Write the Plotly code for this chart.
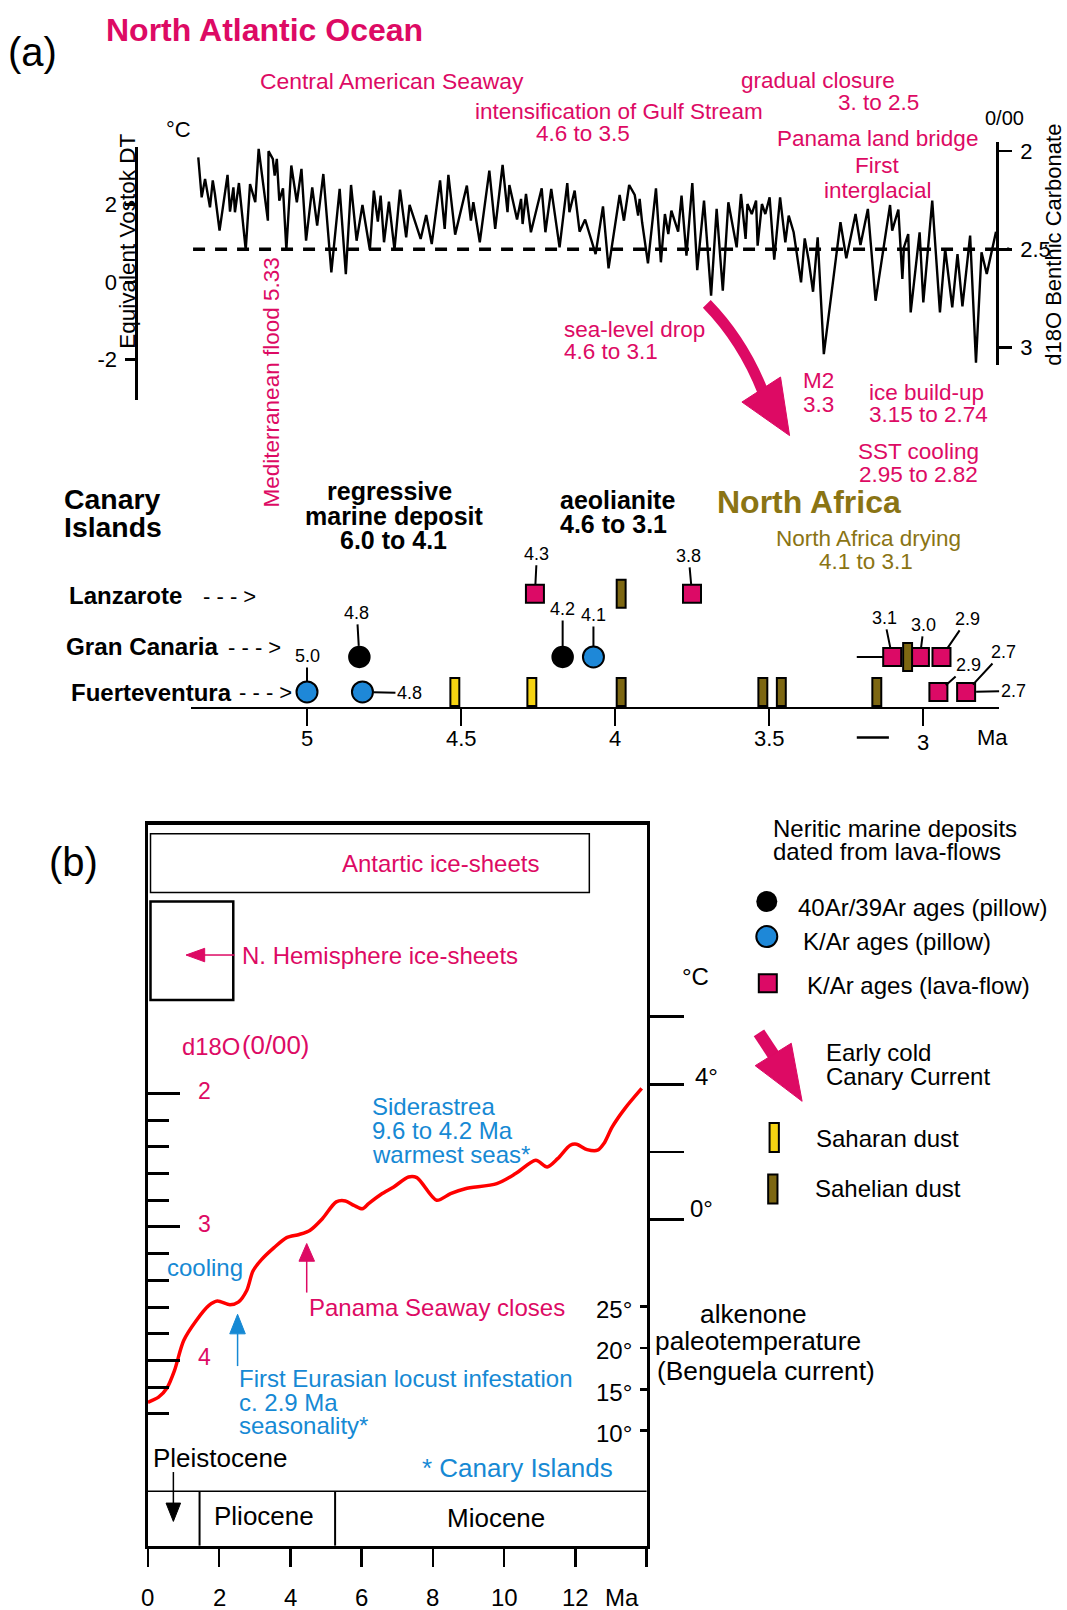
import plotly.graph_objects as go

W, H = 1067, 1610
FONT = "Liberation Sans, Arial, Helvetica, sans-serif"
MAG = "#DD0A64"
BLUE = "#1689D4"
OLIVE = "#8A7414"
OLIVE_FILL = "#7D6712"
YELLOW = "#F5D312"
CIRC_BLUE = "#1E88D8"
SQ_MAG = "#DC0A66"

# ---------------- DATA ----------------
# Panel (a): benthic d18O record vs age (Ma)
MA_A = [5.353, 5.342, 5.331, 5.315, 5.306, 5.299, 5.284, 5.258, 5.250, 5.239,
        5.234, 5.221, 5.199, 5.185, 5.168, 5.157, 5.127, 5.125, 5.111, 5.105,
        5.098, 5.090, 5.078, 5.067, 5.051, 5.033, 5.018, 5.003, 4.983, 4.967,
        4.947, 4.921, 4.894, 4.874, 4.857, 4.839, 4.820, 4.796, 4.783, 4.770,
        4.761, 4.750, 4.734, 4.716, 4.698, 4.678, 4.667, 4.631, 4.613, 4.595,
        4.568, 4.553, 4.541, 4.519, 4.481,
        4.468, 4.460, 4.439, 4.408, 4.389, 4.365, 4.349, 4.343, 4.318, 4.305,
        4.300, 4.289, 4.273, 4.238, 4.226, 4.207, 4.180, 4.155, 4.148, 4.131,
        4.115, 4.097, 4.063, 4.039, 4.021, 3.985, 3.971, 3.954, 3.936, 3.925,
        3.920, 3.912, 3.893, 3.867, 3.851, 3.838, 3.827, 3.817, 3.795, 3.784,
        3.768, 3.749, 3.733, 3.711, 3.688, 3.670, 3.650, 3.632, 3.605, 3.591,
        3.576,
        3.570, 3.556, 3.542, 3.537, 3.523, 3.512, 3.498, 3.483, 3.464, 3.447,
        3.436, 3.420, 3.396, 3.384, 3.371, 3.357, 3.342, 3.322, 3.268, 3.249,
        3.219, 3.203, 3.179, 3.154, 3.107, 3.100, 3.080, 3.067, 3.062, 3.048,
        3.040, 3.011, 2.999, 2.970, 2.945, 2.928, 2.905, 2.888, 2.872, 2.847,
        2.828, 2.810, 2.793, 2.763]
D18O_A = [2.031, 2.235, 2.141, 2.286, 2.149, 2.218, 2.405, 2.121, 2.308, 2.184,
          2.311, 2.162, 2.503, 2.167, 2.260, 1.988, 2.354, 2.000, 2.039, 2.124,
          2.039, 2.252, 2.189, 2.502, 2.073, 2.260, 2.090, 2.456, 2.184, 2.379,
          2.116, 2.617, 2.192, 2.626, 2.172, 2.456, 2.274, 2.502, 2.201, 2.359,
          2.226, 2.464, 2.257, 2.502, 2.196, 2.439, 2.274, 2.447, 2.325, 2.473,
          2.149, 2.396, 2.121, 2.425, 2.175,
          2.354, 2.260, 2.464, 2.099, 2.396, 2.070, 2.311, 2.172, 2.348, 2.243,
          2.371, 2.218, 2.413, 2.189, 2.413, 2.192, 2.490, 2.163, 2.311, 2.201,
          2.410, 2.348, 2.524, 2.281, 2.597, 2.223, 2.354, 2.172, 2.223, 2.328,
          2.243, 2.362, 2.571, 2.189, 2.566, 2.320, 2.422, 2.303, 2.410, 2.226,
          2.532, 2.162, 2.606, 2.252, 2.736, 2.294, 2.711, 2.260, 2.490, 2.218,
          2.447,
          2.269, 2.320, 2.252, 2.481, 2.269, 2.320, 2.235, 2.553, 2.235, 2.464,
          2.328, 2.413, 2.668, 2.444, 2.558, 2.716, 2.439, 3.034, 2.362, 2.546,
          2.320, 2.478, 2.294, 2.762, 2.274, 2.405, 2.297, 2.651, 2.490, 2.422,
          2.821, 2.413, 2.770, 2.252, 2.821, 2.498, 2.796, 2.524, 2.791, 2.430,
          3.077, 2.515, 2.626, 2.410]
MEAN_D18O = 2.5
MEAN_SPAN = [5.37, 2.72]

# Canary Islands dated deposits (Ma)
LAVA_FLOW_MA = [4.26, 3.75, 3.10, 3.01, 2.94, 2.95, 2.86]
LAVA_FLOW_ISL = ["Lanzarote", "Lanzarote", "Gran Canaria", "Gran Canaria",
                 "Gran Canaria", "Fuerteventura", "Fuerteventura"]
LAVA_FLOW_ERR = [0, 0, 0.115, 0, 0, 0, 0]
ARAR_MA = [4.83, 4.17]
ARAR_ISL = ["Gran Canaria", "Gran Canaria"]
KAR_MA = [5.00, 4.82, 4.07]
KAR_ISL = ["Fuerteventura", "Fuerteventura", "Gran Canaria"]
SAHARAN_MA = [4.52, 4.27]
SAHARAN_ISL = ["Fuerteventura", "Fuerteventura"]
SAHELIAN_MA = [3.98, 3.98, 3.52, 3.46, 3.15, 3.05]
SAHELIAN_ISL = ["Lanzarote", "Fuerteventura", "Fuerteventura", "Fuerteventura",
                "Fuerteventura", "Gran Canaria"]
AGE_LABELS = [("5.0", "Fuerteventura", 5.00), ("4.8", "Fuerteventura", 4.82),
              ("4.8", "Gran Canaria", 4.83), ("4.3", "Lanzarote", 4.26),
              ("4.2", "Gran Canaria", 4.17), ("4.1", "Gran Canaria", 4.07),
              ("3.8", "Lanzarote", 3.75), ("3.1", "Gran Canaria", 3.10),
              ("3.0", "Gran Canaria", 3.01), ("2.9", "Gran Canaria", 2.94),
              ("2.9", "Fuerteventura", 2.95), ("2.7", "Fuerteventura", 2.86),
              ("2.7", "Fuerteventura", 2.86)]
TICKS_A = [5, 4.5, 4, 3.5, 3]
TICKTEXT_A = ["5", "4.5", "4", "3.5", "3"]

# Panel (b): composite d18O curve vs age (Ma)
MA_B = [0.00, 0.297, 0.533, 0.743, 1.003, 1.357, 1.712, 1.948, 2.301, 2.536,
        2.772, 2.948, 3.187, 3.540, 3.893, 4.246, 4.543, 4.896, 5.286, 5.544,
        5.782, 6.017, 6.194, 6.547, 6.900, 7.315, 7.550, 8.105, 8.495, 8.907,
        9.793, 10.322, 10.888, 11.208, 11.502, 11.855, 12.032, 12.329, 12.623, 12.800,
        13.035, 13.388, 13.862]
D18O_B = [4.313, 4.275, 4.206, 4.076, 3.851, 3.701, 3.588, 3.555, 3.583, 3.563,
          3.476, 3.330, 3.245, 3.155, 3.080, 3.056, 3.026, 2.938, 2.812, 2.805,
          2.838, 2.863, 2.825, 2.755, 2.700, 2.625, 2.630, 2.800, 2.750, 2.713,
          2.675, 2.600, 2.500, 2.550, 2.488, 2.388, 2.380, 2.420, 2.425, 2.375,
          2.250, 2.113, 1.962]
TICKS_B = [0, 2, 4, 6, 8, 10, 12, 14]
TICKTEXT_B = ["0", "2", "4", "6", "8", "10", "12", ""]
D18O_B_MAJOR = [2, 3, 4]
D18O_B_MINOR = [2.2, 2.4, 2.6, 2.8, 3.2, 3.4, 3.6, 3.8, 4.2, 4.4]
TEMP_TICKS = [0, 2, 4, 6]
ALK_TICKS = [25, 20, 15, 10]

# ---------------- LAYOUT HELPERS ----------------
def cx(x): return x - 4 + 0.00325 * x
def cy(y): return y - 1 + 0.00325 * y
def ix(c): return (c + 4) / 1.00325
def px(x): return cx(x) / W
def py(y): return 1 - cy(y) / H

def ma_a(X): return 5 + (310 - X) / 307.0          # panel a age scale
def d_a(Y): return 2.5 + (Y - 247) / 196.0         # panel a d18O scale
def dt_a(Y): return 2 + (202 - Y) / 38.75          # panel a Vostok DT scale
B_LEFT, B_RIGHT = 151.5, 648.5
def d_b(Y): return 2 + (Y - 1090) / 133.3          # panel b d18O scale
def t_b(Y): return (1216 - Y) / 33.8               # panel b degC scale
def alk_b(Y): return 25 - (Y - 1302.7) / 8.27      # alkenone scale

A_BASE = 704
ROW = {"Lanzarote": A_BASE - 591, "Gran Canaria": A_BASE - 654, "Fuerteventura": A_BASE - 689}

fig = go.Figure()

# panel (a) record
fig.add_trace(go.Scatter(x=MEAN_SPAN, y=[MEAN_D18O, MEAN_D18O], mode="lines",
                         line=dict(color="black", width=3.5, dash="12px,10px"),
                         xaxis="x", yaxis="y", hoverinfo="skip"))
fig.add_trace(go.Scatter(x=MA_A, y=D18O_A, mode="lines",
                         line=dict(color="black", width=2.4),
                         xaxis="x", yaxis="y", hoverinfo="skip"))
fig.add_trace(go.Scatter(x=[None], y=[None], xaxis="x", yaxis="y3"))

# markers
fig.add_trace(go.Scatter(x=LAVA_FLOW_MA, y=[ROW[i] for i in LAVA_FLOW_ISL], mode="markers",
                         marker=dict(symbol="square", size=18, color=SQ_MAG,
                                     line=dict(color="black", width=2)),
                         error_x=dict(type="data", symmetric=False, array=LAVA_FLOW_ERR,
                                      arrayminus=[0] * len(LAVA_FLOW_ERR), width=0,
                                      thickness=2, color="black"),
                         xaxis="x2", yaxis="y2", cliponaxis=False))
fig.add_trace(go.Scatter(x=ARAR_MA, y=[ROW[i] for i in ARAR_ISL], mode="markers",
                         marker=dict(symbol="circle", size=21, color="black",
                                     line=dict(color="black", width=1.5)),
                         xaxis="x2", yaxis="y2", cliponaxis=False))
fig.add_trace(go.Scatter(x=KAR_MA, y=[ROW[i] for i in KAR_ISL], mode="markers",
                         marker=dict(symbol="circle", size=21, color=CIRC_BLUE,
                                     line=dict(color="black", width=2)),
                         xaxis="x2", yaxis="y2", cliponaxis=False))
for vals, isl, col in [(SAHARAN_MA, SAHARAN_ISL, YELLOW), (SAHELIAN_MA, SAHELIAN_ISL, OLIVE_FILL)]:
    fig.add_trace(go.Bar(x=vals, y=[28] * len(vals), base=[ROW[i] - 14 for i in isl],
                         width=0.029, marker=dict(color=col, line=dict(color="black", width=2)),
                         xaxis="x4", yaxis="y4", hoverinfo="skip"))

# panel (b)
fig.add_trace(go.Scatter(x=MA_B, y=D18O_B, mode="lines",
                         line=dict(color="#FF0000", width=3.5, shape="spline", smoothing=0.8),
                         xaxis="x5", yaxis="y5", hoverinfo="skip"))
fig.add_trace(go.Scatter(x=[None], y=[None], xaxis="x5", yaxis="y6"))
fig.add_trace(go.Scatter(x=[None], y=[None], xaxis="x5", yaxis="y7"))

# legend keys (pixel overlay)
fig.add_trace(go.Scatter(x=[cx(768.3)], y=[cy(898.3)], mode="markers",
                         marker=dict(size=21, color="black"), xaxis="x9", yaxis="y9"))
fig.add_trace(go.Scatter(x=[cx(768.3)], y=[cy(933.3)], mode="markers",
                         marker=dict(size=21, color=CIRC_BLUE, line=dict(color="black", width=2)),
                         xaxis="x9", yaxis="y9"))
fig.add_trace(go.Scatter(x=[cx(769.3)], y=[cy(980)], mode="markers",
                         marker=dict(symbol="square", size=18, color=SQ_MAG,
                                     line=dict(color="black", width=2)),
                         xaxis="x9", yaxis="y9"))
fig.add_trace(go.Bar(x=[cx(775.7)], y=[29], base=[cy(1119.5)], width=9.3,
                     marker=dict(color=YELLOW, line=dict(color="black", width=2)),
                     xaxis="x9", yaxis="y9"))
fig.add_trace(go.Bar(x=[cx(774.3)], y=[29], base=[cy(1171)], width=9.3,
                     marker=dict(color=OLIVE_FILL, line=dict(color="black", width=2)),
                     xaxis="x9", yaxis="y9"))

# ---------------- ANNOTATIONS ----------------
ann = []
def txt(x, y, s, size, color="black", anchor="center", bold=False, angle=0):
    ann.append(dict(x=px(x), y=py(y), xref="paper", yref="paper",
                    text=f"<b>{s}</b>" if bold else s, showarrow=False,
                    xanchor=anchor, yanchor="middle", textangle=angle,
                    font=dict(family=FONT, size=size, color=color)))

txt(36, 50, "(a)", 40)
txt(268, 27.7, "North Atlantic Ocean", 32, MAG, bold=True)
txt(395, 79.2, "Central American Seaway", 22.9, MAG)
txt(621, 109.2, "intensification of Gulf Stream", 22.5, MAG)
txt(585.5, 131.3, "4.6 to 3.5", 22.5, MAG)
txt(819, 78.7, "gradual closure", 22.5, MAG)
txt(880, 100, "3. to 2.5", 22.5, MAG)
txt(879, 136.2, "Panama land bridge", 22.5, MAG)
txt(878, 163.5, "First", 22.5, MAG)
txt(879, 188, "interglacial", 22.5, MAG)
txt(1005, 115.5, "0/00", 20)
txt(182, 127.5, "\u00b0C", 22)
txt(131, 239, "Equivalent Vostok DT", 22.5, angle=-90)
txt(1054, 242, "d18O Benthic Carbonate", 22, angle=-90)
txt(275, 380, "Mediterranean flood 5.33", 22.5, MAG, angle=-90)
txt(564, 326.7, "sea-level drop", 22.5, MAG, anchor="left")
txt(564, 349.2, "4.6 to 3.1", 22.5, MAG, anchor="left")
txt(802.5, 378, "M2", 22.5, MAG, anchor="left")
txt(802.5, 401.5, "3.3", 22.5, MAG, anchor="left")
txt(868, 389.5, "ice build-up", 22.5, MAG, anchor="left")
txt(868, 412, "3.15 to 2.74", 22.5, MAG, anchor="left")
txt(857.5, 449, "SST cooling", 22.5, MAG, anchor="left")
txt(858, 471.5, "2.95 to 2.82", 22.5, MAG, anchor="left")
txt(65.7, 496.3, "Canary", 28.4, anchor="left", bold=True)
txt(65.7, 524.3, "Islands", 28.4, anchor="left", bold=True)
txt(392, 488.5, "regressive", 25, bold=True)
txt(397, 513.5, "marine deposit", 25, bold=True)
txt(396, 537.5, "6.0 to 4.1", 25, bold=True)
txt(560, 497, "aeolianite", 25, anchor="left", bold=True)
txt(560, 521, "4.6 to 3.1", 25, anchor="left", bold=True)
txt(716.5, 499.5, "North Africa", 32, OLIVE, anchor="left", bold=True)
txt(870, 536, "North Africa drying", 22.5, OLIVE)
txt(867, 559, "4.1 to 3.1", 22.5, OLIVE)
txt(71.1, 593, "Lanzarote", 24, anchor="left", bold=True)
txt(204.2, 594, "- - - >", 22, anchor="left")
txt(68, 643.5, "Gran Canaria", 24.2, anchor="left", bold=True)
txt(229.2, 645, "- - - >", 22, anchor="left")
txt(72.5, 689.5, "Fuerteventura", 24, anchor="left", bold=True)
txt(240.2, 690, "- - - >", 22, anchor="left")
txt(993, 734, "Ma", 22)
for v, t in zip(TICKS_A, TICKTEXT_A):
    ann.append(dict(x=v, y=py(739.5 if v == 3 else 735.5), xref="x2", yref="paper", text=t,
                    showarrow=False, yanchor="middle",
                    font=dict(family=FONT, size=22, color="black")))

LABEL_OFFSETS = [(0, -36, 11), (47, 1, 11), (-2.5, -44, 11), (2, -40, 9), (0, -48, 11),
                 (0, -42, 11), (-3.4, -38, 9), (-8, -39, 9), (4, -32, 9), (26, -38, 10),
                 (30, -27, 10), (37, -40, 10), (47, -1, 10)]
for (t, isl, m), (ax, ay, so) in zip(AGE_LABELS, LABEL_OFFSETS):
    ann.append(dict(x=m, y=ROW[isl], xref="x2", yref="y2", text=t, showarrow=True,
                    ax=ax, ay=ay, arrowhead=0, arrowwidth=2, arrowcolor="black",
                    standoff=so, font=dict(family=FONT, size=18, color="black")))

# panel (b) text
txt(77, 859, "(b)", 40)
txt(443, 860, "Antartic ice-sheets", 24, MAG)
txt(243.5, 952, "N. Hemisphere ice-sheets", 24, MAG, anchor="left")
txt(183.5, 1043.5, "d18O", 23.8, MAG, anchor="left")
txt(243.2, 1042, "(0/00)", 25.8, MAG, anchor="left")
for v in D18O_B_MAJOR:
    ann.append(dict(x=px(199), y=v, xref="paper", yref="y5", text=str(v), showarrow=False,
                    yshift=3, font=dict(family=FONT, size=23, color=MAG)))
txt(373.2, 1103, "Siderastrea", 24, BLUE, anchor="left")
txt(373.2, 1127, "9.6 to 4.2 Ma", 24, BLUE, anchor="left")
txt(373.2, 1150.5, "warmest seas*", 24, BLUE, anchor="left")
txt(168.5, 1264, "cooling", 24, BLUE, anchor="left")
txt(309.5, 1303.5, "Panama Seaway closes", 24, MAG, anchor="left")
txt(240, 1375, "First Eurasian locust infestation", 24, BLUE, anchor="left")
txt(240, 1399, "c. 2.9 Ma", 24, BLUE, anchor="left")
txt(240, 1422, "seasonality*", 24, BLUE, anchor="left")
txt(423, 1463.5, "* Canary Islands", 26, BLUE, anchor="left")
txt(154.5, 1453.5, "Pleistocene", 26, anchor="left")
txt(267.5, 1512, "Pliocene", 26)
txt(498, 1513.5, "Miocene", 26)
for v, t in zip(TICKS_B, TICKTEXT_B):
    if t:
        ann.append(dict(x=v, y=py(1593), xref="x5", yref="paper", text=t, showarrow=False,
                        yanchor="middle", font=dict(family=FONT, size=24, color="black")))
txt(624, 1593, "Ma", 24)
txt(697.3, 973.3, "\u00b0C", 24)
txt(708, 1072.7, "4\u00b0", 24)
txt(703, 1205, "0\u00b0", 24)
for v in ALK_TICKS:
    ann.append(dict(x=px(616), y=v, xref="paper", yref="y7", text=f"{v}\u00b0", showarrow=False,
                    yshift=-3, font=dict(family=FONT, size=24, color="black")))
txt(755, 1310.5, "alkenone", 26.3)
txt(760, 1337, "paleotemperature", 26.3)
txt(768, 1367, "(Benguela current)", 26.3)

# legend text
txt(772.2, 825, "Neritic marine deposits", 24, anchor="left")
txt(772.2, 848.5, "dated from lava-flows", 24, anchor="left")
txt(797.6, 904, "40Ar/39Ar ages (pillow)", 24, anchor="left")
txt(802.4, 938.5, "K/Ar ages (pillow)", 24, anchor="left")
txt(806.4, 982, "K/Ar ages (lava-flow)", 24, anchor="left")
txt(825.8, 1049.5, "Early cold", 24, anchor="left")
txt(825.8, 1073.5, "Canary Current", 24, anchor="left")
txt(815.2, 1134.5, "Saharan dust", 24, anchor="left")
txt(814.2, 1184.5, "Sahelian dust", 24, anchor="left")

# ---------------- SHAPES ----------------
shapes = []
def seg(x0, y0, x1, y1, color="black", width=2):
    shapes.append(dict(type="line", xref="paper", yref="paper", x0=px(x0), y0=py(y0),
                       x1=px(x1), y1=py(y1), line=dict(color=color, width=width)))
def poly(pts, color):
    path = "M " + " L ".join(f"{px(x)},{py(y)}" for x, y in pts) + " Z"
    shapes.append(dict(type="path", xref="paper", yref="paper", path=path,
                       fillcolor=color, line=dict(color=color, width=1)))
def box(x0, y0, x1, y1, width):
    shapes.append(dict(type="rect", xref="paper", yref="paper", x0=px(x0), y0=py(y0),
                       x1=px(x1), y1=py(y1), line=dict(color="black", width=width),
                       fillcolor="rgba(0,0,0,0)"))

# big curved arrow (panel a)
shapes.append(dict(type="path", xref="paper", yref="paper",
                   path=f"M {px(708.5)},{py(301.5)} Q {px(744.5)},{py(338.5)} {px(764.5)},{py(389.5)}",
                   line=dict(color=MAG, width=11)))
poly([(743.5, 399.5), (782, 374.5), (791, 433)], MAG)
seg(858, 734.5, 890, 734.5, width=2.5)

# legend arrow
seg(760.5, 1029.5, 777, 1054.5, MAG, 12.5)
poly([(756.7, 1062.2), (792.7, 1039.8), (803.5, 1097.8)], MAG)

# panel (b) boxes, epochs, arrows
box(154, 830.7, 591.4, 889.3, 1.5)
box(154, 898.3, 236.5, 996.7, 2.5)
seg(B_LEFT, 1487.3, B_RIGHT, 1487.3, width=1.5)
seg(202.9, 1487.3, 202.9, 1541.5, width=2)
seg(338, 1487.3, 338, 1541.5, width=2)
seg(237.8, 951.7, 207, 951.7, MAG, 1.5)
poly([(208, 945), (208, 958.5), (189.4, 951.7)], MAG)
seg(309.7, 1288.8, 309.7, 1256.5, MAG, 1.5)
poly([(302, 1257.5), (317.5, 1257.5), (309.7, 1239.8)], MAG)
seg(240.8, 1362.2, 240.8, 1329.5, BLUE, 1.5)
poly([(233, 1330), (248.5, 1330), (240.8, 1310.5)], BLUE)
seg(176.8, 1468, 176.8, 1500, "black", 1.5)
poly([(169.5, 1499), (184, 1499), (176.8, 1517.3)], "black")

# ---------------- AXES ----------------
noax = dict(visible=False, showgrid=False, zeroline=False, fixedrange=True)
tickfont = dict(family=FONT, size=22, color="black")
B_TOP, B_BOT = 821.7, 1541.5
layout = dict(
    width=W, height=H, autosize=False, margin=dict(l=0, r=0, t=0, b=0, pad=0),
    paper_bgcolor="white", plot_bgcolor="rgba(0,0,0,0)", showlegend=False,
    hovermode=False, barmode="overlay", font=dict(family=FONT, color="black"),
    xaxis=dict(domain=[0, 1], range=[ma_a(ix(0)), ma_a(ix(W))], anchor="y", **noax),
    yaxis=dict(domain=[py(362), py(140)], range=[d_a(362), d_a(140)], anchor="free",
               position=px(998), side="right", showline=True, linewidth=2.5, linecolor="black",
               ticks="outside", ticklen=13, tickwidth=2.5, tickcolor="black",
               tickvals=[2, 2.5, 3], ticktext=["2", "2.5", "3"], tickfont=tickfont,
               ticklabelstandoff=4, showgrid=False, zeroline=False),
    yaxis3=dict(domain=[py(397), py(145)], range=[dt_a(397), dt_a(145)], anchor="free",
                position=px(140), side="left", showline=True, linewidth=2.5, linecolor="black",
                ticks="outside", ticklen=10, tickwidth=2.5, tickcolor="black",
                tickvals=[-2, 0, 2], ticktext=["-2", "0", "2"], tickfont=tickfont,
                ticklabelstandoff=4, showgrid=False, zeroline=False),
    xaxis2=dict(domain=[px(194), px(1000)], range=[ma_a(194), ma_a(1000)], anchor="y2",
                showline=True, linewidth=2.5, linecolor="black", ticks="outside", ticklen=17,
                tickwidth=2.5, tickcolor="black", tickvals=TICKS_A, showticklabels=False,
                showgrid=False, zeroline=False),
    yaxis2=dict(domain=[py(A_BASE), py(A_BASE - 148)], range=[0, 148], anchor="x2", **noax),
    xaxis4=dict(overlaying="x2", range=[ma_a(194), ma_a(1000)], anchor="y4", **noax),
    yaxis4=dict(overlaying="y2", range=[0, 148], anchor="x4", **noax),
    xaxis5=dict(domain=[px(B_LEFT), px(B_RIGHT)], range=[0, 14], anchor="y5",
                showline=True, linewidth=3.5, linecolor="black", mirror=True,
                ticks="outside", ticklen=18, tickwidth=2.5, tickcolor="black",
                tickvals=TICKS_B, showticklabels=False, showgrid=False, zeroline=False),
    yaxis5=dict(domain=[py(B_BOT), py(B_TOP)], range=[d_b(B_BOT), d_b(B_TOP)], anchor="x5",
                showline=True, linewidth=3, linecolor="black", mirror=True,
                ticks="inside", ticklen=32, tickwidth=3, tickcolor="black",
                tickvals=D18O_B_MAJOR, showticklabels=False,
                minor=dict(tickvals=D18O_B_MINOR, ticks="inside", ticklen=21, tickwidth=3,
                           tickcolor="black", showgrid=False),
                showgrid=False, zeroline=False),
    yaxis6=dict(domain=[py(1230), py(990)], range=[t_b(1230), t_b(990)], anchor="free",
                position=px(B_RIGHT), side="right", showline=False, ticks="outside", ticklen=36,
                tickwidth=2.5, tickcolor="black", tickvals=TEMP_TICKS, showticklabels=False,
                showgrid=False, zeroline=False),
    yaxis7=dict(domain=[py(1440), py(1290)], range=[alk_b(1440), alk_b(1290)], anchor="free",
                position=px(B_RIGHT), side="right", showline=False, ticks="inside", ticklen=7,
                tickwidth=2.5, tickcolor="black", tickvals=ALK_TICKS, showticklabels=False,
                showgrid=False, zeroline=False),
    xaxis9=dict(domain=[0, 1], range=[0, W], anchor="y9", **noax),
    yaxis9=dict(domain=[0, 1], range=[H, 0], anchor="x9", **noax),
    annotations=ann, shapes=shapes,
)
fig.update_layout(**layout)

fig.write_html("out.html", config={"displayModeBar": False, "staticPlot": True},
               post_script="document.body.style.margin='0px';document.body.style.overflow='hidden';")
